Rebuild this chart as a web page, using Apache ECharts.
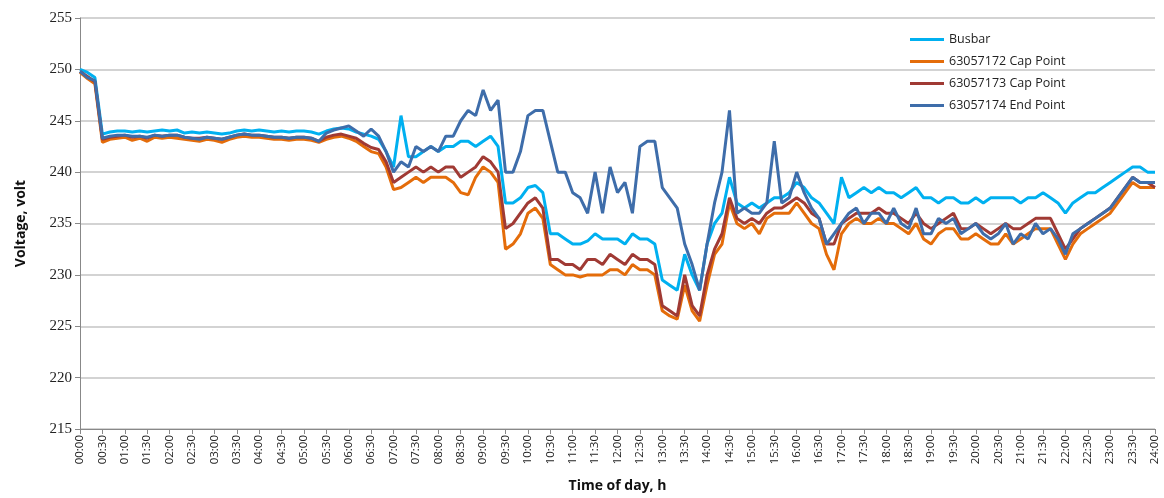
<!DOCTYPE html>
<html><head><meta charset="utf-8">
<script src="https://cdn.jsdelivr.net/npm/echarts@6/dist/echarts.min.js"></script>
<style>html,body{margin:0;padding:0;background:#fff}#c{width:1164px;height:498px}</style>
</head><body><div id="c"></div>
<script>
const times = [];
for (let m = 0; m <= 1440; m += 10) { const h = Math.floor(m/60), mm = m%60; times.push(String(h).padStart(2,'0')+':'+String(mm).padStart(2,'0')); }
const busbar = [
250,249.7,249.2,243.7,243.9,244.0, 244.0,243.9,244.0,243.9,244.0,244.1,
244.0,244.1,243.8,243.9,243.8,243.9, 243.8,243.7,243.8,244.0,244.1,244.0,
244.1,244.0,243.9,244.0,243.9,244.0, 244.0,243.9,243.7,244.0,244.2,244.3,
244.2,243.9,243.7,243.5,243.2,242.0, 240.5,245.5,241.5,241.5,242.0,242.5,
242.0,242.5,242.5,243.0,243.0,242.5, 243.0,243.5,242.5,237.0,237.0,237.5,
238.5,238.7,238.0,234.0,234.0,233.5, 233.0,233.0,233.3,234.0,233.5,233.5,
233.5,233.0,234.0,233.5,233.5,233.0, 229.5,229.0,228.5,232.0,230.0,228.5,
233.0,235.0,236.0,239.5,237.0,236.5, 237.0,236.5,237.0,237.5,237.5,238.0,
239.0,238.5,237.5,237.0,236.0,235.0, 239.5,237.5,238.0,238.5,238.0,238.5,
238,238,237.5,238,238.5,237.5, 237.5,237,237.5,237.5,237,237,
237.5,237,237.5,237.5,237.5,237.5, 237,237.5,237.5,238,237.5,237,
236,237,237.5,238,238,238.5, 239,239.5,240,240.5,240.5,240, 240];
const cap172 = [
249.7,249.1,248.6,242.9,243.2,243.3, 243.4,243.1,243.3,243.0,243.4,243.3,
243.4,243.3,243.2,243.1,243.0,243.2, 243.1,242.9,243.2,243.4,243.5,243.4,
243.4,243.3,243.2,243.2,243.1,243.2, 243.2,243.1,242.9,243.2,243.4,243.5,
243.3,243.0,242.5,242.0,241.8,240.5, 238.3,238.5,239.0,239.5,239.0,239.5,
239.5,239.5,239.0,238.0,237.8,239.5, 240.5,240.0,239.0,232.5,233.0,234.0,
236.0,236.5,235.5,231.0,230.5,230.0, 230.0,229.8,230.0,230.0,230.0,230.5,
230.5,230.0,231.0,230.5,230.5,230.0, 226.5,226.0,225.7,229.0,226.5,225.5,
229.0,232.0,233.0,237.0,235.0,234.5, 235.0,234.0,235.5,236.0,236.0,236.0,
237.0,236.0,235.0,234.5,232.0,230.5, 234.0,235.0,235.5,235.0,235.0,235.5,
235,235,234.5,234,235,233.5, 233,234,234.5,234.5,233.5,233.5,
234,233.5,233,233,234,233, 233.5,234,234.5,234.5,234.5,233,
231.5,233,234,234.5,235,235.5, 236,237,238,239,238.5,238.5, 238.5];
const cap173 = [
249.8,249.3,248.8,243.2,243.4,243.5, 243.6,243.4,243.5,243.3,243.6,243.5,
243.6,243.6,243.4,243.3,243.3,243.4, 243.3,243.2,243.4,243.6,243.7,243.6,
243.6,243.5,243.4,243.4,243.3,243.4, 243.4,243.3,243.0,243.4,243.6,243.7,
243.5,243.3,242.8,242.4,242.2,241.0, 239.0,239.5,240.0,240.5,240.0,240.5,
240.0,240.5,240.5,239.5,240.0,240.5, 241.5,241.0,240.0,234.5,235.0,236.0,
237.0,237.5,236.5,231.5,231.5,231.0, 231.0,230.5,231.5,231.5,231.0,232.0,
231.5,231.0,232.0,231.5,231.5,231.0, 227.0,226.5,226.0,230.0,227.0,226.0,
230.0,232.5,234.0,237.5,235.5,235.0, 235.5,235.0,236.0,236.5,236.5,237.0,
237.5,237.0,236.0,235.5,233.0,233.0, 235.0,235.5,236.0,236.0,236.0,236.5,
236,236,235.5,235,236,235, 234.5,235,235.5,236,234.5,234.5,
235,234.5,234,234.5,235,234.5, 234.5,235,235.5,235.5,235.5,234,
232.5,233.5,234.5,235,235.5,236, 236.5,237.5,238.5,239.5,239,239, 238.5];
const end174 = [
249.8,249.2,248.9,243.3,243.5,243.6, 243.6,243.5,243.5,243.4,243.6,243.5,
243.6,243.6,243.4,243.3,243.2,243.4, 243.3,243.2,243.4,243.6,243.7,243.6,
243.6,243.5,243.4,243.4,243.3,243.4, 243.4,243.3,243.0,243.8,244.1,244.3,
244.5,244.0,243.5,244.2,243.5,242.0, 240.0,241.0,240.5,242.5,242.0,242.5,
242.0,243.5,243.5,245.0,246.0,245.5, 248.0,246.0,247.0,240.0,240.0,242.0,
245.5,246.0,246.0,243.0,240.0,240.0, 238.0,237.5,236.0,240.0,236.0,240.5,
238.0,239.0,236.0,242.5,243.0,243.0, 238.5,237.5,236.5,233.0,231.0,228.5,
233.0,237.0,240.0,246.0,236.0,236.5, 236.0,236.0,237.0,243.0,237.0,237.5,
240.0,238.0,236.5,235.5,233.0,234.0, 235.0,236.0,236.5,235.0,236.0,236.0,
235,236.5,235,234.5,236.5,234, 234,235.5,235,235.5,234,234.5,
235,234,233.5,234,235,233, 234,233.5,235,234,234.5,233.5,
232,234,234.5,235,235.5,236, 236.5,237.5,238.5,239.5,239,239, 239];
const names = ['Busbar','63057172 Cap Point','63057173 Cap Point','63057174 End Point'];
const colors = ['#00B0F0','#E46C0A','#A03A34','#3E6DAA'];
const datas = [busbar, cap172, cap173, end174];
const chart = echarts.init(document.getElementById('c'));
chart.setOption({
  animation:false,
  color: colors,
  grid:{left:80,right:9,top:18,bottom:63},
  legend:{orient:'vertical',left:905,top:28,itemGap:9,itemWidth:34,itemHeight:3,icon:'rect',
    textStyle:{fontFamily:'Open Sans',fontSize:12.5,color:'#222'},data:names},
  xAxis:{type:'category',data:times,boundaryGap:false,
    name:'Time of day, h',nameLocation:'middle',nameGap:50,
    nameTextStyle:{fontFamily:'Open Sans',fontWeight:'bold',fontSize:14,color:'#111'},
    axisLine:{lineStyle:{color:'#888'}},
    axisTick:{interval:2,lineStyle:{color:'#888'}},
    axisLabel:{interval:2,rotate:90,fontFamily:'Open Sans',fontSize:11.5,color:'#222',margin:6}},
  yAxis:{type:'value',min:215,max:255,interval:5,
    name:'Voltage, volt',nameLocation:'middle',nameGap:52,
    nameTextStyle:{fontFamily:'Open Sans',fontWeight:'bold',fontSize:14,color:'#111'},
    axisLine:{show:true,lineStyle:{color:'#888'}},axisTick:{show:true,lineStyle:{color:'#888'}},
    axisLabel:{fontFamily:'Liberation Serif',fontSize:15,color:'#222'},
    splitLine:{lineStyle:{color:'#c4c4c4',width:1.5}}},
  series: names.map((n,i)=>({name:n,type:'line',data:datas[i],showSymbol:false,
    lineStyle:{width:3,color:colors[i]},z:[1,2,3,4][i]}))
});
</script></body></html>
